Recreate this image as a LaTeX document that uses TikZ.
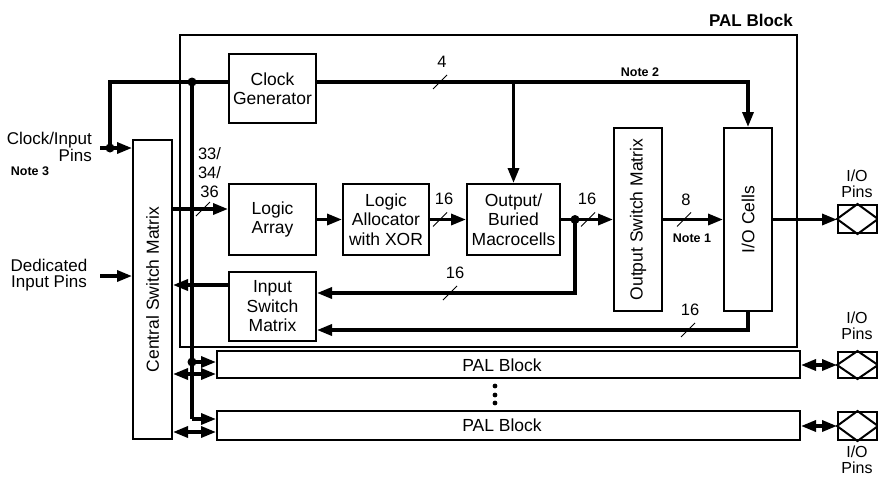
\documentclass[tikz,border=0pt]{standalone}
\usepackage{fontspec}
\setmainfont{Liberation Sans}
\usetikzlibrary{arrows.meta,calc}
\begin{document}
\begin{tikzpicture}[x=1pt,y=-1pt,
  lbl/.style={font=\fontsize{17.5}{19.5}\selectfont, inner sep=0pt, align=center},
  num/.style={font=\fontsize{16.5}{18}\selectfont, inner sep=0pt},
  note/.style={font=\bfseries\fontsize{12.5}{14}\selectfont, inner sep=0pt},
  blk/.style={draw, line width=2pt, inner sep=0pt, align=center,
    font=\fontsize{17.5}{19.5}\selectfont},
  bus/.style={line width=3.3pt},
  tip/.tip={Triangle[length=15pt,width=11pt]},
  buscut/.pic={\draw[line width=0.9pt] (-7,7) -- (7,-7);},
  jdot/.style={circle, fill, inner sep=0pt, minimum size=9pt}
]
\useasboundingbox (0,0) rectangle (878,477);

% PAL block outline
\draw[line width=1.8pt] (180,35) rectangle (797,347);
\node[lbl, font=\bfseries\fontsize{17}{19.5}\selectfont] (paltitle) at (751,20) {PAL Block};

% boxes
\node[blk, minimum width=87pt, minimum height=69pt] (cg) at (272.5,88.5) {Clock\\Generator};
\node[blk, minimum width=87pt, minimum height=71pt] (la) at (272.5,219.5) {Logic\\Array};
\node[blk, minimum width=86pt, minimum height=71pt] (lal) at (386,219.5) {Logic\\Allocator\\with XOR};
\node[blk, minimum width=93pt, minimum height=71pt] (omc) at (513.5,219.5) {Output/\\Buried\\Macrocells};
\node[blk, minimum width=48pt, minimum height=183pt] (osm) at (638,219.5) {};
\node[lbl, rotate=90] (osmt) at (osm) {Output Switch Matrix};
\node[blk, minimum width=48pt, minimum height=183pt] (ioc) at (748,219.5) {};
\node[lbl, rotate=90] (ioct) at (ioc) {I/O Cells};
\node[blk, minimum width=87pt, minimum height=69pt] (ism) at (272.5,306.5) {Input\\Switch\\Matrix};
\node[blk, minimum width=39pt, minimum height=299pt] (csm) at (152.5,289.5) {};
\node[lbl, rotate=90] (csmt) at (csm) {Central Switch Matrix};
\node[blk, minimum width=583pt, minimum height=27pt] (pb1) at (508.5,364.5) {};
\node[lbl] (pb1t) at (502,365) {PAL Block};
\node[blk, minimum width=583pt, minimum height=29pt] (pb2) at (508.5,425.5) {};
\node[lbl] (pb2t) at (502,425) {PAL Block};

% pins
\node[blk, minimum width=39pt, minimum height=28pt] (pin1) at (857.5,219) {};
\node[blk, minimum width=39pt, minimum height=26pt] (pin2) at (857.5,365) {};
\node[blk, minimum width=39pt, minimum height=28pt] (pin3) at (857.5,426) {};
\foreach \p in {pin1,pin2,pin3}
  \draw[line width=2pt] (\p.west) -- (\p.north) -- (\p.east) -- (\p.south) -- cycle;

% coordinates
\coordinate (cl) at (110,82);
\coordinate (cinj) at (110,148);
\coordinate (cin) at (100,148);
\coordinate (cdot) at (192,82);
\coordinate (cr) at (ioc.north |- cl);
\coordinate (cb) at (omc.north |- cl);
\coordinate (din) at (100,276);
\coordinate (fb) at (575,219.5);
\coordinate (fbc) at (575,293);
\coordinate (ioco) at (748,330);
\coordinate (vb1) at (192,362);
\coordinate (vb2) at (192,419);

% clock network
\draw[bus] (cinj) -- (cl) -- (cg.west |- cl);
\draw[bus,-tip] (cg.east |- cl) -- (cr) -- (ioc.north);
\draw[bus,-tip] (cb) -- (omc.north);
\draw[bus,-tip] (cin) -- (csm.west |- cin);
\node[jdot] (d1) at (cinj) {};
\draw[bus] (cdot) -- (vb2);
\draw[bus,-tip] (vb2) -- (pb2.west |- vb2);
\draw[bus,-tip] (vb1) -- (pb1.west |- vb1);
\node[jdot] (d2) at (cdot) {};
\node[jdot] (d3) at (vb1) {};
\pic at (440,82) {buscut};
\node[num] (n4) at (442,62) {4};
\node[note] (note2) at (640,72) {Note 2};

% dedicated inputs
\draw[bus,-tip] (din) -- (csm.west |- din);

% datapath
\draw[bus,-tip] (csm.east |- 0,209) -- (la.west |- 0,209);
\pic at (203,209) {buscut};
\draw[bus,-tip] (la.east) -- (lal.west);
\draw[bus,-tip] (lal.east) -- (omc.west);
\pic at (440,219.5) {buscut};
\draw[bus,-tip] (omc.east) -- (osm.west);
\pic at (588,219.5) {buscut};
\draw[bus,-tip] (fb) -- (fbc) -- (ism.east |- fbc);
\pic at (450,293) {buscut};
\node[jdot] (d4) at (fb) {};
\draw[bus,-tip] (osm.east) -- (ioc.west);
\pic at (684,219.5) {buscut};
\draw[bus,-tip] (ioc.east) -- (pin1.west |- ioc.east);
\draw[bus,-tip] (ioc.south) -- (ioco) -- (ism.east |- ioco);
\pic at (688,330) {buscut};
\draw[bus,-tip] (ism.west |- 0,285) -- (csm.east |- 0,285);

% PAL block interconnect
\draw[bus,tip-tip] (csm.east |- 0,374) -- (pb1.west |- 0,374);
\draw[bus,tip-tip] (csm.east |- 0,432) -- (pb2.west |- 0,432);
\draw[bus,tip-tip] (pb1.east |- pin2) -- (pin2.west);
\draw[bus,tip-tip] (pb2.east |- pin3) -- (pin3.west);

% labels
\node[lbl, align=right, anchor=east, font=\fontsize{17}{17}\selectfont] (cip) at (92,147) {Clock/Input\\Pins};
\node[note] (note3) at (30,171) {Note 3};
\node[lbl, font=\fontsize{17}{16.5}\selectfont] (dip) at (49,275) {Dedicated\\Input Pins};
\node[lbl, font=\fontsize{16.5}{19}\selectfont] (w33) at (209.5,173) {33/\\34/\\36};
\node[num] (n16a) at (444,199) {16};
\node[num] (n16b) at (587,199) {16};
\node[num] (n16c) at (455,273) {16};
\node[num] (n8) at (686,200) {8};
\node[note] (note1) at (692,238) {Note 1};
\node[num] (n16d) at (690,310) {16};
\node[lbl, font=\fontsize{16}{16}\selectfont] (iop1) at (857,184) {I/O\\Pins};
\node[lbl, font=\fontsize{16}{16}\selectfont] (iop2) at (857,326) {I/O\\Pins};
\node[lbl, font=\fontsize{16}{16}\selectfont] (iop3) at (857,460) {I/O\\Pins};

% vertical ellipsis
\foreach \yy [count=\i] in {386,395,403}
  \fill (495,\yy) circle (2.4pt);
\end{tikzpicture}
\end{document}
